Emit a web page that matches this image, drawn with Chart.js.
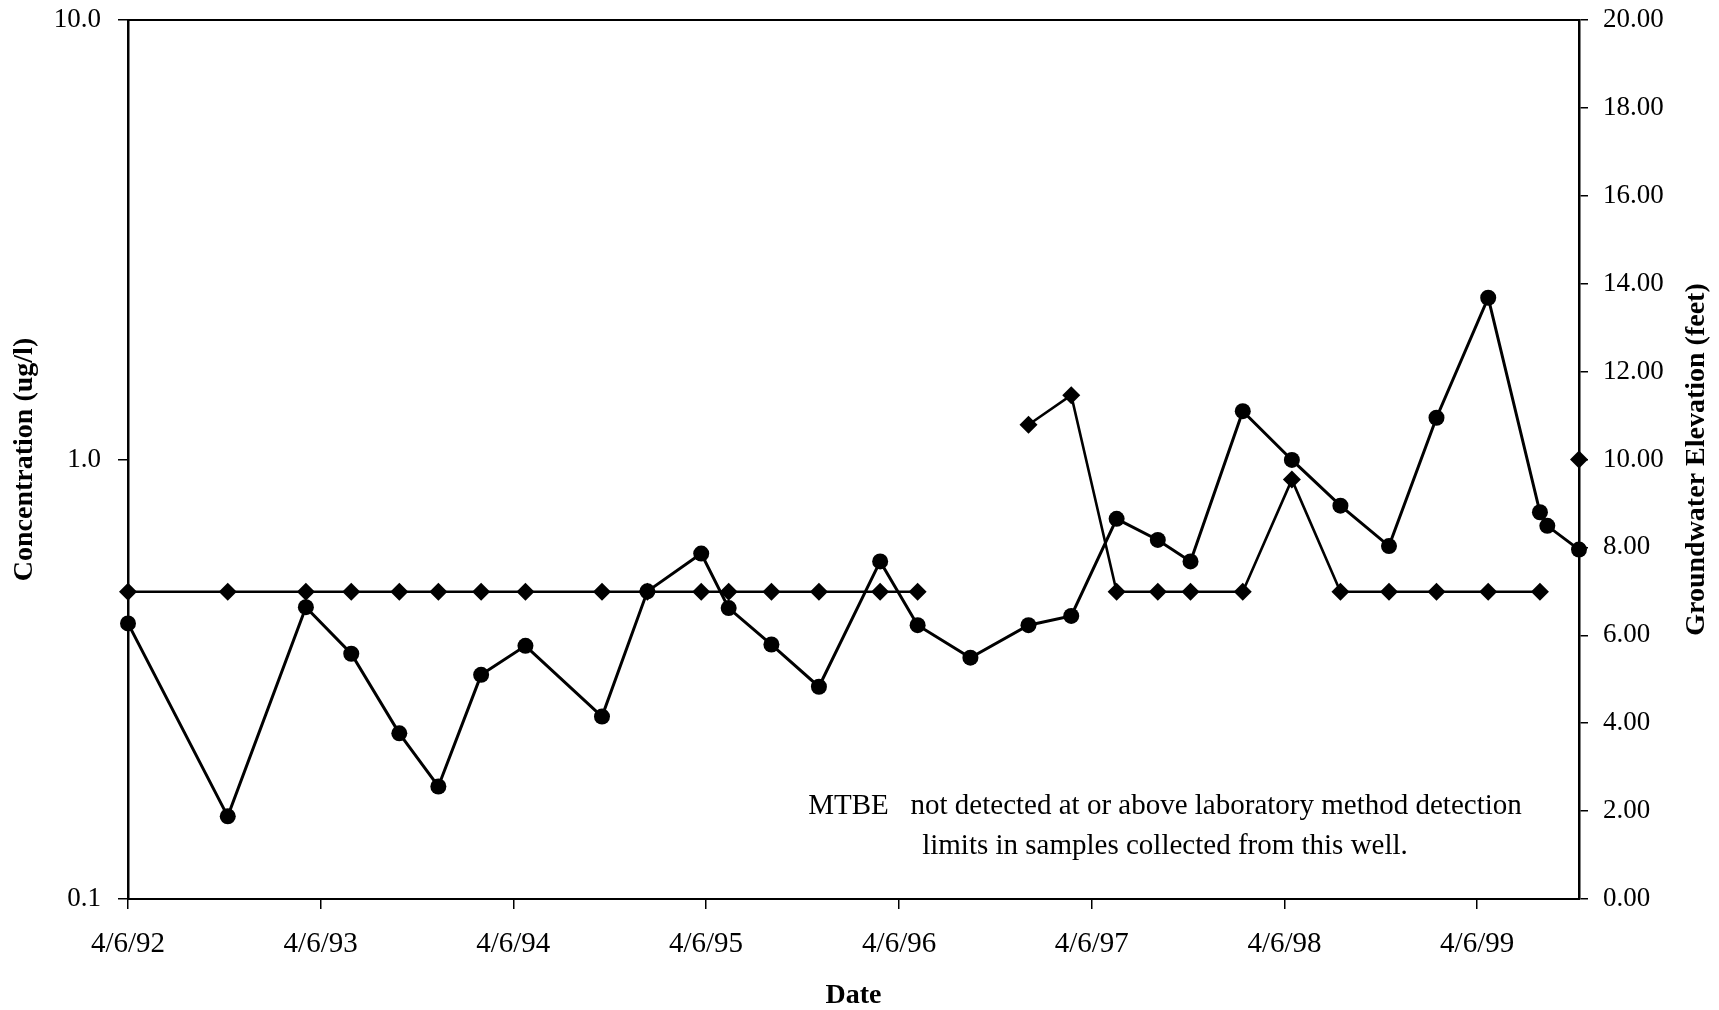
<!DOCTYPE html>
<html>
<head>
<meta charset="utf-8">
<script src="https://cdn.jsdelivr.net/npm/chart.js@4.4.1/dist/chart.umd.min.js"></script>
<style>
  html, body { margin: 0; padding: 0; background: #fff; }
  canvas { display: block; }
</style>
</head>
<body>
<canvas id="chart" width="1719" height="1010"></canvas>
<script>
// sample dates
const sampleDates = [
  '1992-04-06', '1992-10-12', '1993-03-09', '1993-06-03', '1993-09-02', '1993-11-15',
  '1994-02-04', '1994-04-29', '1994-09-21', '1994-12-16', '1995-03-28', '1995-05-19',
  '1995-08-08', '1995-11-06', '1996-03-01', '1996-05-11', '1996-08-19', '1996-12-07',
  '1997-02-26', '1997-05-23', '1997-08-09', '1997-10-10', '1998-01-17', '1998-04-20',
  '1998-07-21', '1998-10-21', '1999-01-19', '1999-04-27', '1999-08-03', '1999-08-17',
  '1999-10-16'
];

// concentration (ug/l), left log axis - diamonds
const concentration = [
  0.5, 0.5, 0.5, 0.5, 0.5, 0.5, 0.5, 0.5, 0.5, 0.5, 0.5, 0.5, 0.5, 0.5, 0.5, 0.5,
  null, 1.2, 1.4, 0.5, 0.5, 0.5, 0.5, 0.9, 0.5, 0.5, 0.5, 0.5, 0.5, null, 1.0
];

// groundwater elevation (feet), right axis - circles
const groundwater = [
  6.27, 1.88, 6.64, 5.58, 3.77, 2.56, 5.10, 5.76, 4.15, 7.00, 7.86, 6.62, 5.79, 4.83,
  7.68, 6.23, 5.49, 6.23, 6.44, 8.65, 8.17, 7.68, 11.10, 9.99, 8.95, 8.03, 10.95, 13.68,
  8.80, 8.49, 7.95
];

const xTickDates = ['1992-04-06', '1993-04-06', '1994-04-06', '1995-04-06',
                    '1996-04-06', '1997-04-06', '1998-04-06', '1999-04-06'];
const xTickLabels = ['4/6/92', '4/6/93', '4/6/94', '4/6/95', '4/6/96', '4/6/97', '4/6/98', '4/6/99'];
const concTicks = [0.1, 1, 10];

const noteLines = [
  'MTBE   not detected at or above laboratory method detection',
  'limits in samples collected from this well.'
];

const day0 = Date.parse(sampleDates[0]);
const dayOf = s => (Date.parse(s) - day0) / 86400000;

const serif = 'Liberation Serif';

// keep the plot box fixed; labels may overhang it
const noOverhang = s => { s.paddingTop = 0; s.paddingBottom = 0; s.paddingLeft = 0; s.paddingRight = 0; };

const frame = {
  id: 'frame',
  beforeDatasetsDraw(chart) {
    const { ctx, chartArea: a } = chart;
    ctx.save();
    ctx.strokeStyle = '#000';
    ctx.lineWidth = 2;
    ctx.strokeRect(a.left, a.top, a.right - a.left, a.bottom - a.top);
    ctx.restore();
  },
  afterDraw(chart) {
    const { ctx, chartArea: a } = chart;
    ctx.save();
    ctx.fillStyle = '#000';
    // right title reads bottom to top, same as the left one
    ctx.translate(1697, (a.top + a.bottom) / 2);
    ctx.rotate(-Math.PI / 2);
    ctx.font = 'bold 28px "' + serif + '"';
    ctx.textAlign = 'center';
    ctx.textBaseline = 'middle';
    ctx.fillText('Groundwater Elevation (feet)', 0, 0);
    ctx.restore();

    ctx.save();
    ctx.fillStyle = '#000';
    ctx.font = '29px "' + serif + '"';
    ctx.textAlign = 'center';
    ctx.textBaseline = 'middle';
    noteLines.forEach((t, i) => ctx.fillText(t, 1165, 806 + i * 40));
    ctx.restore();
  }
};

new Chart(document.getElementById('chart').getContext('2d'), {
  type: 'line',
  data: {
    datasets: [
      {
        label: 'Concentration',
        data: sampleDates.map((d, i) => ({ x: dayOf(d), y: concentration[i] })),
        yAxisID: 'y',
        borderColor: '#000',
        backgroundColor: '#000',
        borderWidth: 2.6,
        pointStyle: 'rectRot',
        pointRadius: 9,
        pointBorderWidth: 0,
        tension: 0,
        clip: false
      },
      {
        label: 'Groundwater Elevation',
        data: sampleDates.map((d, i) => ({ x: dayOf(d), y: groundwater[i] })),
        yAxisID: 'y2',
        borderColor: '#000',
        backgroundColor: '#000',
        borderWidth: 3,
        pointStyle: 'circle',
        pointRadius: 8,
        pointBorderWidth: 0,
        tension: 0,
        clip: false
      }
    ]
  },
  options: {
    responsive: false,
    animation: false,
    devicePixelRatio: 1,
    layout: { padding: { top: 20, left: 0, right: 0, bottom: 0 } },
    plugins: { legend: { display: false }, tooltip: { enabled: false } },
    scales: {
      x: {
        type: 'linear',
        min: 0,
        max: dayOf(sampleDates[sampleDates.length - 1]),
        afterBuildTicks: s => { s.ticks = xTickDates.map(d => ({ value: dayOf(d) })); },
        afterFit: s => { s.height = 111; noOverhang(s); },
        ticks: {
          callback: (v, i) => xTickLabels[i],
          font: { family: serif, size: 29 },
          color: '#000',
          padding: 18,
          maxRotation: 0,
          autoSkip: false
        },
        grid: { display: true, drawOnChartArea: false, drawTicks: true, tickLength: 10, color: '#000', lineWidth: 1.5 },
        border: { display: true, color: '#000', width: 2 },
        title: {
          display: true,
          text: 'Date',
          font: { family: serif, size: 28, weight: 'bold', lineHeight: 1 },
          color: '#000',
          padding: { top: 0, bottom: 0 }
        }
      },
      y: {
        type: 'logarithmic',
        position: 'left',
        min: 0.1,
        max: 10,
        afterBuildTicks: s => { s.ticks = concTicks.map(v => ({ value: v })); },
        afterFit: s => { s.width = 128; noOverhang(s); },
        ticks: {
          callback: v => Number(v).toFixed(1),
          font: { family: serif, size: 27 },
          color: '#000',
          padding: 17
        },
        grid: { display: true, drawOnChartArea: false, drawTicks: true, tickLength: 10, color: '#000', lineWidth: 1.5 },
        border: { display: true, color: '#000', width: 2.5 },
        title: {
          display: true,
          text: 'Concentration (ug/l)',
          font: { family: serif, size: 28, weight: 'bold' },
          color: '#000',
          padding: { top: 8, bottom: 0 }
        }
      },
      y2: {
        type: 'linear',
        position: 'right',
        min: 0,
        max: 20,
        afterFit: s => { s.width = 140; noOverhang(s); },
        ticks: {
          stepSize: 2,
          callback: v => Number(v).toFixed(2),
          font: { family: serif, size: 27 },
          color: '#000',
          padding: 15
        },
        grid: { display: true, drawOnChartArea: false, drawTicks: true, tickLength: 9, color: '#000', lineWidth: 1.5 },
        border: { display: true, color: '#000', width: 2.5 }
      }
    }
  },
  plugins: [frame]
});
</script>
</body>
</html>
